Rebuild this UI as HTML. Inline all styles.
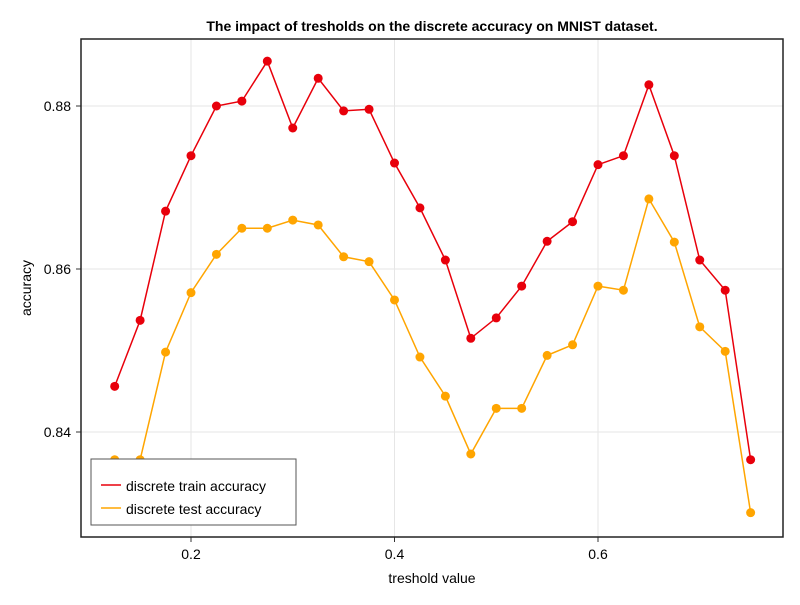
<!DOCTYPE html>
<html><head><meta charset="utf-8"><style>
html,body{margin:0;padding:0;background:#fff;}
svg text{font-family:"Liberation Sans",sans-serif;}
</style></head><body>
<svg id="chart" width="800" height="600" xmlns="http://www.w3.org/2000/svg"></svg>
<script>
const xValues=[0.125,0.15,0.175,0.2,0.225,0.25,0.275,0.3,0.325,0.35,0.375,0.4,0.425,0.45,0.475,0.5,0.525,0.55,0.575,0.6,0.625,0.65,0.675,0.7,0.725,0.75];
const trainAcc=[0.8456,0.8537,0.8671,0.8739,0.8800,0.8806,0.8855,0.8773,0.8834,0.8794,0.8796,0.8730,0.8675,0.8611,0.8515,0.8540,0.8579,0.8634,0.8658,0.8728,0.8739,0.8826,0.8739,0.8611,0.8574,0.8366];
const testAcc=[0.8366,0.8366,0.8498,0.8571,0.8618,0.8650,0.8650,0.8660,0.8654,0.8615,0.8609,0.8562,0.8492,0.8444,0.8373,0.8429,0.8429,0.8494,0.8507,0.8579,0.8574,0.8686,0.8633,0.8529,0.8499,0.8301];
const xTicks=[0.2,0.4,0.6];
const yTicks=[0.84,0.86,0.88];
const NS="http://www.w3.org/2000/svg";
const svg=document.getElementById('chart');
const L=81,R=783,T=39,B=537;
const xs=v=>191+(v-0.2)*1017.5;
const ys=v=>106+(0.88-v)*8150;
function mk(tag,attrs,parent){const e=document.createElementNS(NS,tag);for(const k in attrs)e.setAttribute(k,attrs[k]);(parent||svg).appendChild(e);return e;}
// grid
xTicks.forEach(t=>{const g=mk('line',{x1:xs(t),x2:xs(t),y1:T,y2:B,stroke:'#e6e6e6','stroke-width':1});


const tk=mk('line',{x1:xs(t),x2:xs(t),y1:B,y2:B+5,stroke:'#333'});


const lb=mk('text',{x:xs(t),y:B+22,'text-anchor':'middle','font-size':14,fill:'#000'});lb.textContent=t.toFixed(1);

});
yTicks.forEach(t=>{const g=mk('line',{x1:L,x2:R,y1:ys(t),y2:ys(t),stroke:'#e6e6e6','stroke-width':1});


const tk=mk('line',{x1:L-5,x2:L,y1:ys(t),y2:ys(t),stroke:'#333'});


const lb=mk('text',{x:L-10,y:ys(t)+5,'text-anchor':'end','font-size':14,fill:'#000'});lb.textContent=t.toFixed(2);

});
function series(vals,color,name){
 const p=mk('polyline',{points:vals.map((v,i)=>xs(xValues[i])+','+ys(v)).join(' '),fill:'none',stroke:color,'stroke-width':1.5});
 
 
 vals.forEach((v,i)=>{const c=mk('circle',{cx:xs(xValues[i]),cy:ys(v),r:4.5,fill:color});
 
 });
}
series(trainAcc,'#e8000b','train');
series(testAcc,'#ffa500','test');
const fr=mk('rect',{x:L,y:T,width:R-L,height:B-T,fill:'none',stroke:'#222','stroke-width':1.5});


</script>
<svg style="position:absolute;left:0;top:0" width="800" height="600" xmlns="http://www.w3.org/2000/svg">
<text x="432" y="31" text-anchor="middle" font-size="14" font-weight="bold" font-family="Liberation Sans, sans-serif">The impact of tresholds on the discrete accuracy on MNIST dataset.</text>
<text x="432" y="583" text-anchor="middle" font-size="14" font-family="Liberation Sans, sans-serif">treshold value</text>
<text x="31" y="288" text-anchor="middle" font-size="14" font-family="Liberation Sans, sans-serif" transform="rotate(-90 31 288)">accuracy</text>
<g>
<rect x="91" y="459" width="205" height="66" fill="#fff" stroke="#555" stroke-width="1"/>
<line x1="101" x2="121" y1="485" y2="485" stroke="#e8000b" stroke-width="1.5"/>
<text x="126" y="491" font-size="14" font-family="Liberation Sans, sans-serif">discrete train accuracy</text>
<line x1="101" x2="121" y1="508" y2="508" stroke="#ffa500" stroke-width="1.5"/>
<text x="126" y="514" font-size="14" font-family="Liberation Sans, sans-serif">discrete test accuracy</text>
</g>
</svg>
</body></html>
